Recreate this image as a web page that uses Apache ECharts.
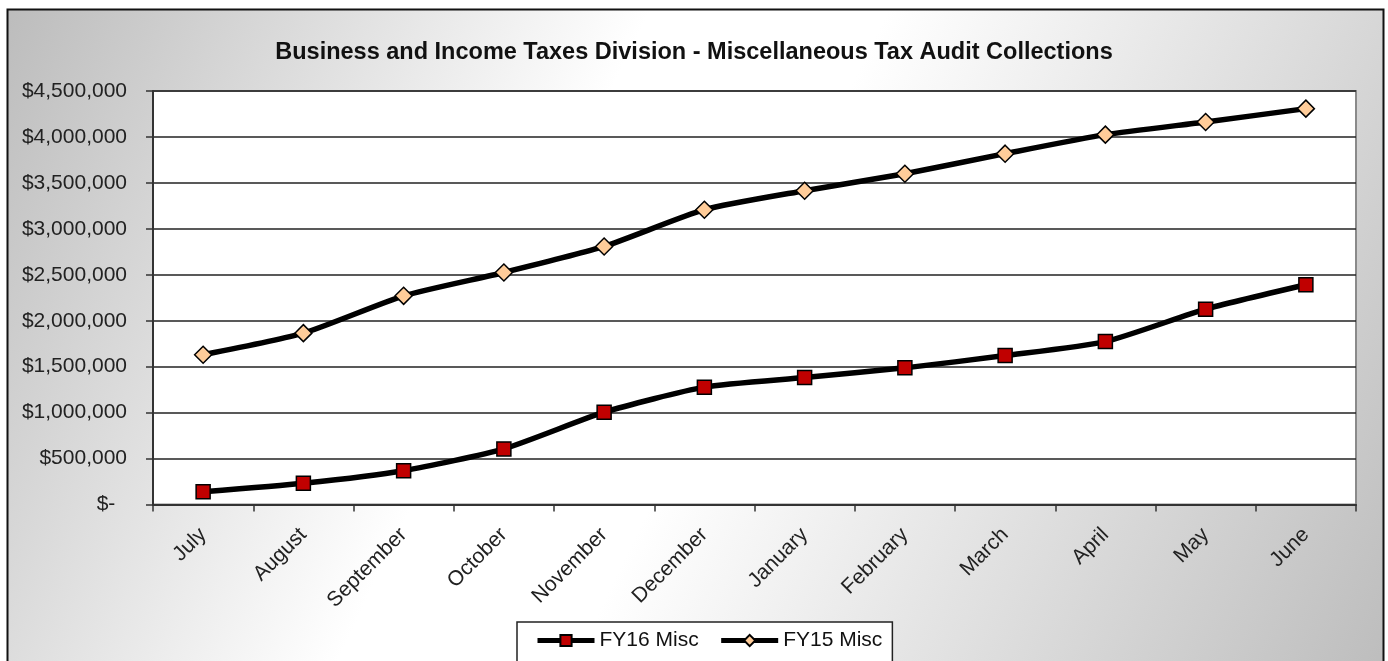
<!DOCTYPE html>
<html>
<head>
<meta charset="utf-8">
<script src="https://cdn.jsdelivr.net/npm/echarts@6/dist/echarts.min.js"></script>
<style>
  html, body { margin: 0; padding: 0; background: #fff; }
  #container { width: 1388px; height: 661px; }
</style>
</head>
<body>
<div id="container"></div>
<script>
// months on the x axis
var months = ["July", "August", "September", "October", "November", "December",
  "January", "February", "March", "April", "May", "June"];
// cumulative collections
var fy16Misc = [139000, 231000, 368000, 605000, 1004000, 1277000,
  1381000, 1487000, 1621000, 1773000, 2126000, 2391000];
var fy15Misc = [1630000, 1865000, 2271000, 2525000, 2808000, 3208000,
  3415000, 3600000, 3818000, 4025000, 4163000, 4308000];
var seriesNames = ["FY16 Misc", "FY15 Misc"];

var font = "Arial, 'Liberation Sans', sans-serif";

function money(v) {
  if (v === 0) return "$-  ";
  return "$" + v.toLocaleString("en-US");
}

var option = {
  backgroundColor: "#fff",
  animation: false,
  graphic: [
    {
      type: "rect",
      z: -10,
      shape: { x: 7.5, y: 9.5, width: 1376, height: 660 },
      style: {
        fill: new echarts.graphic.LinearGradient(0, 0, 1, 1, [
          { offset: 0, color: "#bcbcbc" },
          { offset: 0.38, color: "#ffffff" },
          { offset: 0.52, color: "#ffffff" },
          { offset: 1, color: "#bdbdbd" }
        ]),
        stroke: "#111",
        lineWidth: 2
      }
    }
  ],
  title: {
    text: "Business and Income Taxes Division - Miscellaneous Tax Audit Collections",
    left: "center",
    top: 36,
    textStyle: {
      color: "#111",
      fontFamily: font,
      fontWeight: "bold",
      fontSize: 23.5
    }
  },
  legend: {
    data: seriesNames,
    left: 517,
    top: 622,
    padding: [8, 10, 20, 18],
    itemGap: 20,
    itemWidth: 57,
    itemHeight: 14,
    backgroundColor: "#fff",
    borderColor: "#222",
    borderWidth: 1.5,
    borderRadius: 0,
    lineStyle: { width: 5 },
    textStyle: { color: "#111", fontFamily: font, fontSize: 21 }
  },
  grid: {
    left: 153,
    right: 32,
    top: 91,
    bottom: 156.5,
    show: true,
    backgroundColor: "#fff",
    borderColor: "#8a8a8a",
    borderWidth: 2
  },
  xAxis: {
    type: "category",
    data: months,
    boundaryGap: true,
    axisLine: { show: true, lineStyle: { color: "#333", width: 2 } },
    axisTick: { show: true, length: 7, lineStyle: { color: "#333", width: 1.5 } },
    axisLabel: {
      rotate: 45,
      margin: 27,
      interval: 0,
      color: "#222",
      fontFamily: font,
      fontSize: 21
    }
  },
  yAxis: {
    type: "value",
    min: 0,
    max: 4500000,
    interval: 500000,
    axisLine: { show: true, lineStyle: { color: "#333", width: 2 } },
    axisTick: { show: true, length: 7, lineStyle: { color: "#333", width: 1.5 } },
    splitLine: { show: true, lineStyle: { color: "#222", width: 1.5 } },
    axisLabel: {
      margin: 26,
      color: "#222",
      fontFamily: font,
      fontSize: 21,
      formatter: money
    }
  },
  series: [
    {
      name: seriesNames[0],
      type: "line",
      data: fy16Misc,
      smooth: 0.2,
      symbol: "rect",
      symbolSize: 14,
      lineStyle: { color: "#000", width: 5.5 },
      itemStyle: { color: "#c00000", borderColor: "#000", borderWidth: 1.5 },
      z: 3
    },
    {
      name: seriesNames[1],
      type: "line",
      data: fy15Misc,
      smooth: 0.2,
      symbol: "diamond",
      symbolSize: 17,
      lineStyle: { color: "#000", width: 5.5 },
      itemStyle: { color: "#ffcc99", borderColor: "#000", borderWidth: 1.5 },
      z: 3
    }
  ]
};

var dom = document.getElementById("container");
var myChart = echarts.init(dom);
myChart.setOption(option, true);
</script>
</body>
</html>
